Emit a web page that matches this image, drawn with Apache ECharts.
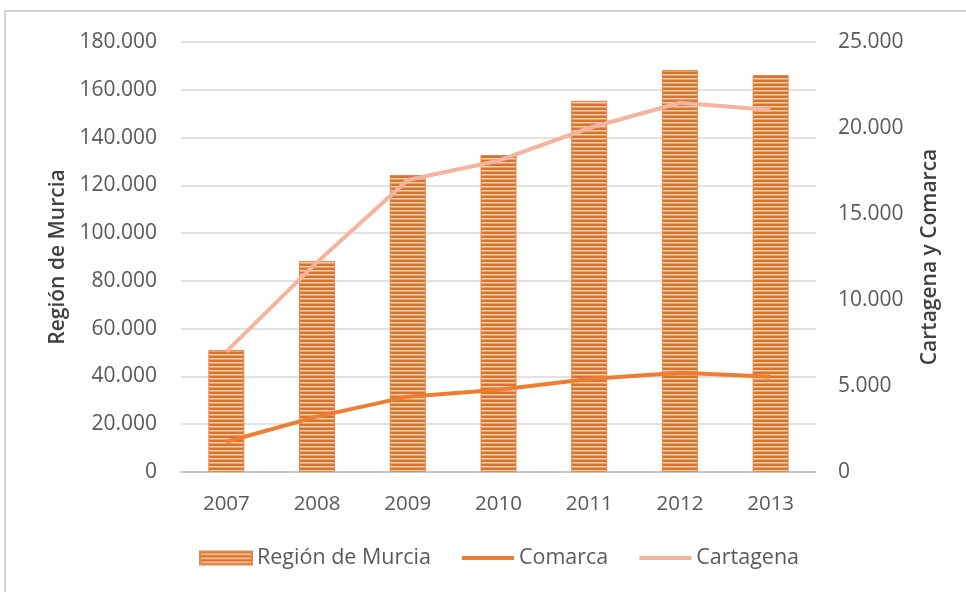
<!DOCTYPE html>
<html>
<head>
<meta charset="utf-8">
<script src="https://cdn.jsdelivr.net/npm/echarts@6/dist/echarts.min.js"></script>
<style>
html,body{margin:0;padding:0;background:#fff;}
#c{width:966px;height:592px;}
</style>
</head>
<body>
<div id="c"></div>
<script>
const years = ['2007','2008','2009','2010','2011','2012','2013'];
const region = [51100, 88300, 124300, 132700, 155400, 168300, 166200];
const comarca = [1760, 3220, 4380, 4780, 5410, 5770, 5540];
const cartagena = [7000, 12200, 16980, 18100, 20000, 21470, 21050];

function stripes(){
  const cv = document.createElement('canvas');
  cv.width = 8; cv.height = 4;
  const g = cv.getContext('2d');
  g.fillStyle = '#d8722f'; g.fillRect(0,0,8,2);
  g.fillStyle = '#fad3b2'; g.fillRect(0,2,8,1);
  g.fillStyle = '#eea06a'; g.fillRect(0,3,8,1);
  return cv;
}
const pat = {image: stripes(), repeat: 'repeat'};
const fmt = v => v === 0 ? '0' : String(v).replace(/\B(?=(\d{3})+(?!\d))/g, '.');
const font = '"Open Sans", sans-serif';
const lineIcon = 'path://M0,0 L52,0 L52,4 L0,4 Z';

const chart = echarts.init(document.getElementById('c'));
chart.setOption({
  animation: false,
  graphic: [{type:'rect', shape:{x:5, y:11, width:1000, height:700}, style:{fill:'none', stroke:'#d4d4d4', lineWidth:2}, z:-1}],
  grid: {left:181, right:150, top:42, bottom:120},
  legend: {
    bottom: 18, left: 194, itemGap: 31, itemWidth: 52, itemHeight: 13,
    textStyle: {fontFamily: font, fontSize: 21.5, color: '#595959', padding:[0,0,0,0]},
    data: [
      {name:'Región de Murcia', icon:'rect', itemStyle:{color:pat}},
      {name:'Comarca', icon: lineIcon, itemStyle:{color:'#ed7d31'}},
      {name:'Cartagena', icon: lineIcon, itemStyle:{color:'#f4b49e'}}
    ]
  },
  xAxis: {
    type:'category', data: years,
    axisLine:{lineStyle:{color:'#bfbfbf', width:1.5}},
    axisTick:{show:false},
    axisLabel:{fontFamily:font, fontSize:20.5, color:'#595959', margin:22}
  },
  yAxis: [
    {type:'value', min:0, max:180000, interval:20000,
     name:'Región de Murcia', nameLocation:'middle', nameGap:110, nameRotate:90,
     nameTextStyle:{fontFamily:font, fontSize:21, fontWeight:600, color:'#404040'},
     axisLine:{show:false}, axisTick:{show:false},
     splitLine:{lineStyle:{color:'#d9d9d9', width:1.5}},
     axisLabel:{fontFamily:font, fontSize:21, color:'#595959', margin:24, formatter:fmt}},
    {type:'value', min:0, max:25000, interval:5000,
     name:'Cartagena y Comarca', nameLocation:'middle', nameGap:104, nameRotate:90,
     nameTextStyle:{fontFamily:font, fontSize:21, fontWeight:600, color:'#404040'},
     axisLine:{show:false}, axisTick:{show:false}, splitLine:{show:false},
     axisLabel:{fontFamily:font, fontSize:21, color:'#595959', margin:22, formatter:fmt}}
  ],
  series: [
    {name:'Región de Murcia', type:'bar', data: region, barWidth:36,
     itemStyle:{color:pat, borderColor:'#e0874c', borderWidth:1}},
    {name:'Comarca', type:'line', yAxisIndex:1, data: comarca, symbol:'none',
     lineStyle:{color:'#ed7d31', width:4}, itemStyle:{color:'#ed7d31'}},
    {name:'Cartagena', type:'line', yAxisIndex:1, data: cartagena, symbol:'none',
     lineStyle:{color:'#f4b49e', width:4}, itemStyle:{color:'#f4b49e'}}
  ]
});
</script>
</body>
</html>
